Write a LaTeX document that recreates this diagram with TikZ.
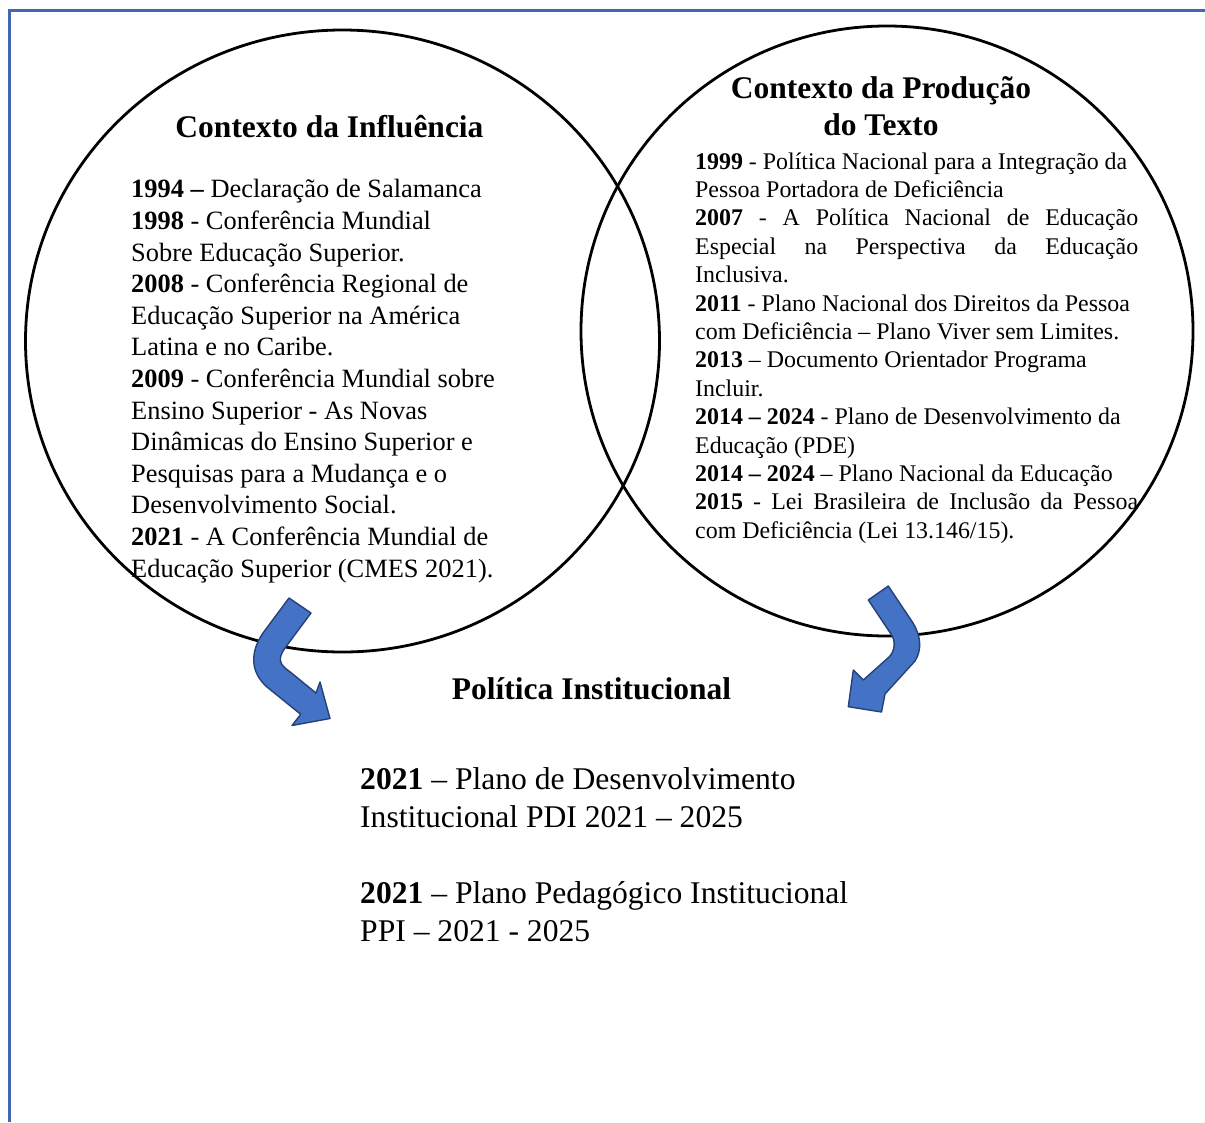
\documentclass[tikz,border=0pt]{standalone}
\usepackage{fontspec}
\setmainfont{Liberation Serif}
\usepackage{xcolor}
\usepackage{tikz}

\definecolor{frameblue}{RGB}{68,104,176}
\definecolor{arrowfill}{RGB}{68,114,196}
\definecolor{arrowline}{RGB}{38,64,120}

\newcommand{\headfont}{\fontsize{31.5}{37}\selectfont\bfseries}
\newcommand{\leftfont}{\fontsize{26.4}{31.6}\selectfont}
\newcommand{\rightfont}{\fontsize{23.9}{28.4}\selectfont}
\newcommand{\planfont}{\fontsize{31.6}{38}\selectfont}
\newcommand{\fullline}[1]{\makebox[443pt][s]{#1}}

\tikzset{
    ring/.style={draw=black, line width=2.8pt},
    bentarrow/.style={fill=arrowfill, draw=arrowline, line width=1.4pt, line join=round},
    textblock/.style={inner sep=0pt, align=left}
}

\begin{document}
\begin{tikzpicture}[x=1pt, y=-1pt]
    \useasboundingbox (0,0) rectangle (1205,1122);

    % Draw frame
    \draw[frameblue, line width=3pt] (9,1122) -- (9,10) -- (1205,10);

    % Draw circles
    \draw[ring] (342.5,341) ellipse [x radius=317pt, y radius=311pt];
    \draw[ring] (887,331) ellipse [x radius=306pt, y radius=305pt];

    % Headings (base anchor sits on the last line)
    \node[inner sep=0pt, anchor=base, font=\headfont] (influencia) at (329.5,137.7) {Contexto da Influência};
    \node[inner sep=0pt, anchor=base, align=center, font=\headfont] (producao) at (881,135.5) {Contexto da Produção\\do Texto};
    \node[inner sep=0pt, anchor=base, font=\headfont] (institucional) at (591.5,699) {Política Institucional};

    % Left circle text
    \node[textblock, anchor=base west, font=\leftfont] (influtext) at (131,577) {%
        \textbf{1994 –} Declaração de Salamanca\\
        \textbf{1998} - Conferência Mundial\\
        Sobre Educação Superior.\\
        \textbf{2008} - Conferência Regional de\\
        Educação Superior na América\\
        Latina e no Caribe.\\
        \textbf{2009} - Conferência Mundial sobre\\
        Ensino Superior - As Novas\\
        Dinâmicas do Ensino Superior e\\
        Pesquisas para a Mudança e o\\
        Desenvolvimento Social.\\
        \textbf{2021} - A Conferência Mundial de\\
        Educação Superior (CMES 2021).};

    % Right circle text
    \node[textblock, anchor=base west, font=\rightfont] (prodtext) at (695,538.2) {%
        \textbf{1999} - Política Nacional para a Integração da\\
        Pessoa Portadora de Deficiência\\
        \fullline{\textbf{2007} - A Política Nacional de Educação}\\
        \fullline{Especial na Perspectiva da Educação}\\
        Inclusiva.\\
        \textbf{2011} - Plano Nacional dos Direitos da Pessoa\\
        com Deficiência – Plano Viver sem Limites.\\
        \textbf{2013} – Documento Orientador Programa\\
        Incluir.\\
        \textbf{2014 – 2024} - Plano de Desenvolvimento da\\
        Educação (PDE)\\
        \textbf{2014 – 2024} – Plano Nacional da Educação\\
        \fullline{\textbf{2015} - Lei Brasileira de Inclusão da Pessoa}\\
        com Deficiência (Lei 13.146/15).};

    % Institutional plans
    \node[textblock, anchor=base west, font=\planfont] (planos) at (360,941) {%
        \textbf{2021} – Plano de Desenvolvimento\\
        Institucional PDI 2021 – 2025\\[38pt]
        \textbf{2021} – Plano Pedagógico Institucional\\
        PPI – 2021 - 2025};

    % Draw bent arrows
    \draw[bentarrow] (289,598) -- (311,613) -- (285,648)
        .. controls (277,659) and (280,665) .. (289,671)
        -- (316,693) -- (320,682) -- (330,718.5) -- (292,725.5) -- (300.7,714.3)
        -- (267,687) .. controls (250,672) and (250,652) .. (263,633) -- cycle;
    \draw[bentarrow] (868.3,600) -- (888.3,586) -- (913,623)
        .. controls (921,636) and (922,650) .. (915,661)
        -- (885,694) -- (881.5,712) -- (848.3,706.7) -- (853.3,670) -- (863.3,680)
        -- (889,657) .. controls (895,651) and (896,641) .. (891,634) -- cycle;
\end{tikzpicture}
\end{document}
